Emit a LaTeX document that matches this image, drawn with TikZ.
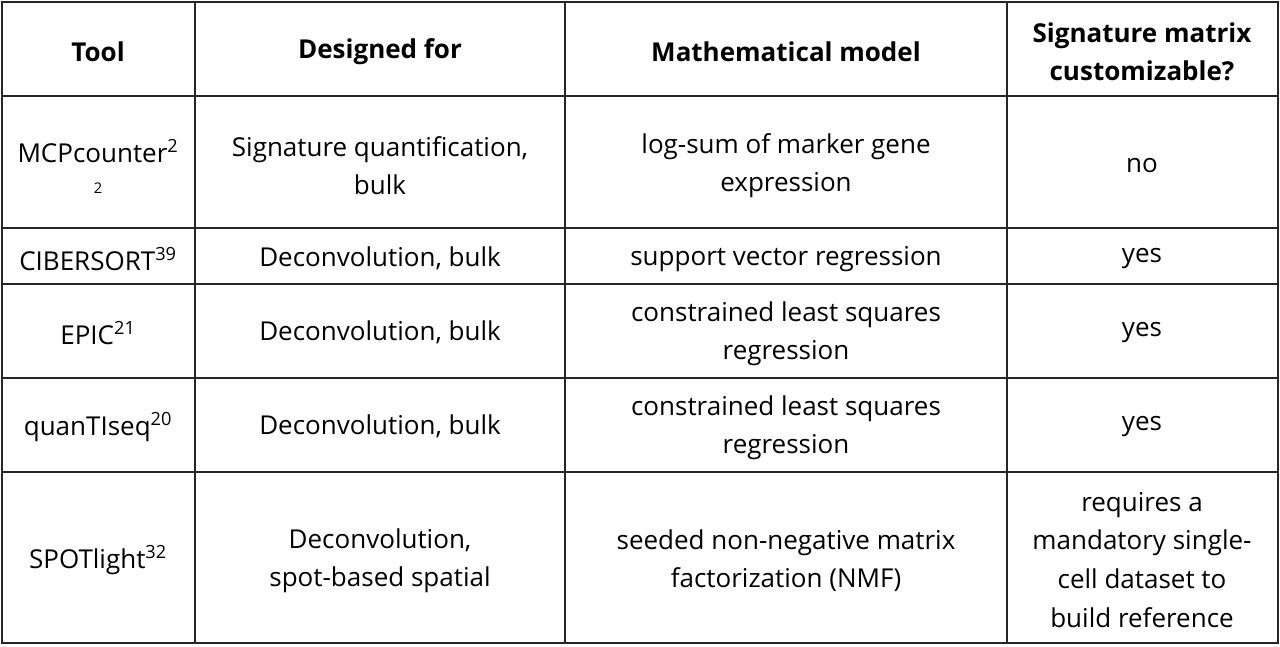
\documentclass[tikz,border=0pt]{standalone}
\usepackage{fontspec}
\setmainfont{Open Sans}
\begin{document}
\begin{tikzpicture}[x=0.75pt,y=-0.75pt,
  cell/.style={align=center,font=\fontsize{19.5}{29}\selectfont,inner sep=0pt,yshift=-2pt},
  hd/.style={cell,font=\fontsize{19.5}{29}\selectfont\bfseries},
  grid/.style={line width=0.8pt,black!85}]
\useasboundingbox (0,0) rectangle (1280,646);
\draw[grid] (2,2) rectangle (1278,643);
\foreach \x in {195,565,1007} \draw[grid] (\x,2) -- (\x,643);
\foreach \y in {96,228,284,378,472} \draw[grid] (2,\y) -- (1278,\y);
% header
\node[hd] (h1) at (98,49) {Tool};
\node[hd] (h2) at (380,49) {Designed for};
\node[hd] (h3) at (786,49) {Mathematical model};
\node[hd] (h4) at (1142,49) {Signature matrix\\customizable?};
% row 1
\node[cell] (a1) at (98,164) {MCPcounter\textsuperscript{2}\\[-6pt]{\fontsize{11}{12}\selectfont 2}};
\node[cell] (b1) at (380,163) {Signature quantification,\\bulk};
\node[cell] (c1) at (786,163) {log-sum of marker gene\\expression};
\node[cell] (d1) at (1142,163) {no};
% row 2
\node[cell] (a2) at (98,256) {CIBERSORT\textsuperscript{39}};
\node[cell] (b2) at (380,256) {Deconvolution, bulk};
\node[cell] (c2) at (786,256) {support vector regression};
\node[cell] (d2) at (1142,256) {yes};
% row 3
\node[cell] (a3) at (98,330) {EPIC\textsuperscript{21}};
\node[cell] (b3) at (380,330) {Deconvolution, bulk};
\node[cell] (c3) at (786,331) {constrained least squares\\regression};
\node[cell] (d3) at (1142,330) {yes};
% row 4
\node[cell] (a4) at (98,424) {quanTIseq\textsuperscript{20}};
\node[cell] (b4) at (380,424) {Deconvolution, bulk};
\node[cell] (c4) at (786,425) {constrained least squares\\regression};
\node[cell] (d4) at (1142,424) {yes};
% row 5
\node[cell] (a5) at (98,557) {SPOTlight\textsuperscript{32}};
\node[cell] (b5) at (380,558) {Deconvolution,\\spot-based spatial};
\node[cell] (c5) at (786,558) {seeded non-negative matrix\\factorization (NMF)};
\node[cell] (d5) at (1142,557) {requires a\\mandatory single-\\cell dataset to\\build reference};
\end{tikzpicture}
\end{document}
